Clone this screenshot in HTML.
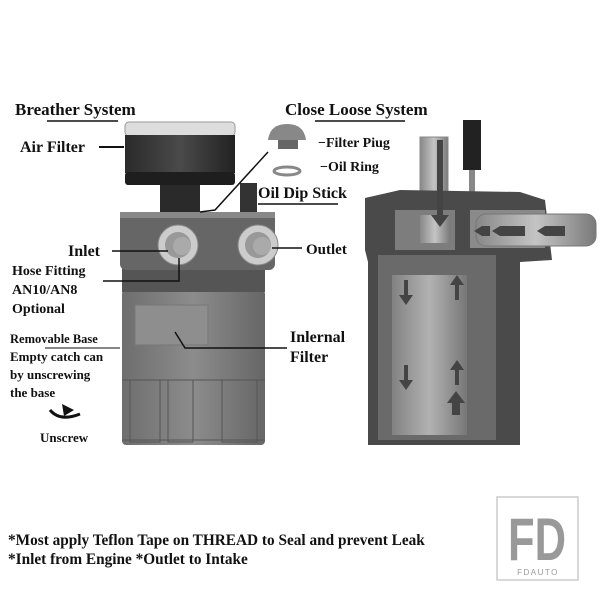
<!DOCTYPE html>
<html><head><style>
body{margin:0;background:#fff;}
svg{display:block}
text{font-family:"Liberation Serif",serif;font-weight:bold;fill:#111}
</style></head><body>
<svg width="600" height="600" viewBox="0 0 600 600" xmlns="http://www.w3.org/2000/svg">
<defs>
<linearGradient id="mesh" x1="0" x2="1"><stop offset="0" stop-color="#2a2a2a"/><stop offset=".5" stop-color="#4a4a4a"/><stop offset="1" stop-color="#222"/></linearGradient>
<linearGradient id="clear" x1="0" x2="1"><stop offset="0" stop-color="#6e6e6e"/><stop offset=".5" stop-color="#8c8c8c"/><stop offset="1" stop-color="#666"/></linearGradient>
<linearGradient id="cyl" x1="0" x2="1"><stop offset="0" stop-color="#888"/><stop offset=".5" stop-color="#c4c4c4"/><stop offset="1" stop-color="#7a7a7a"/></linearGradient>
</defs>
<!-- LEFT UNIT -->
<rect x="125" y="122" width="110" height="14" rx="4" fill="#ddd" stroke="#999"/>
<rect x="125" y="135" width="110" height="38" fill="url(#mesh)"/>
<rect x="125" y="172" width="110" height="13" rx="3" fill="#1e1e1e"/>
<rect x="160" y="185" width="40" height="28" fill="#2a2a2a"/>
<rect x="240" y="183" width="17" height="32" fill="#333"/>
<rect x="122" y="290" width="143" height="155" rx="4" fill="url(#clear)"/>
<rect x="135" y="305" width="73" height="40" fill="#8e8e8e" stroke="#777"/>
<g stroke="#555" fill="none"><rect x="130" y="380" width="30" height="62"/><rect x="168" y="380" width="25" height="62"/><rect x="222" y="380" width="35" height="62"/><line x1="122" y1="380" x2="265" y2="380"/><line x1="122" y1="440" x2="265" y2="440"/></g>
<rect x="122" y="265" width="143" height="27" fill="#555"/>
<rect x="120" y="212" width="155" height="58" rx="6" fill="#666"/>
<rect x="120" y="212" width="155" height="6" fill="#888"/>
<circle cx="178" cy="245" r="20" fill="#ccc" stroke="#888"/><circle cx="178" cy="245" r="13" fill="#999"/><circle cx="182" cy="246" r="9" fill="#aaa"/>
<circle cx="258" cy="245" r="20" fill="#ccc" stroke="#888"/><circle cx="258" cy="245" r="13" fill="#999"/><circle cx="262" cy="246" r="9" fill="#aaa"/>
<!-- parts -->
<path d="M268 140 Q270 124 287 124 Q304 124 306 140 Z" fill="#888"/><rect x="278" y="140" width="20" height="9" fill="#666"/>
<ellipse cx="287" cy="171" rx="13" ry="4" fill="none" stroke="#888" stroke-width="3"/>
<!-- RIGHT UNIT -->
<rect x="420" y="137" width="28" height="55" fill="url(#cyl)" stroke="#888"/>
<rect x="463" y="120" width="18" height="50" fill="#222"/><rect x="469" y="170" width="6" height="22" fill="#888"/>
<path d="M365 198 L400 190 L520 192 L545 200 L552 260 L520 262 L520 445 L368 445 L368 262 L365 250 Z" fill="#4a4a4a"/>
<rect x="378" y="255" width="118" height="185" fill="#6a6a6a"/>
<rect x="392" y="275" width="75" height="160" fill="url(#cyl)" opacity=".8"/>
<rect x="395" y="210" width="60" height="40" fill="#7d7d7d"/>
<rect x="420" y="215" width="30" height="28" fill="url(#cyl)"/>
<rect x="470" y="210" width="75" height="38" fill="#8a8a8a"/>
<rect x="476" y="214" width="120" height="32" rx="10" fill="url(#cyl)" stroke="#777"/>
<g fill="#444">
<path d="M437 140v75h-6l9 12 9-12h-6v-75z"/>
<path d="M565 226h-20l-8 5 8 5h20z M525 226h-25l-8 5 8 5h25z M490 226h-8l-8 5 8 5h8z"/>
<path d="M404 365v15h-5l7 10 7-10h-5v-15z M455 385v-15h-5l7-10 7 10h-5v15z M452 415v-12h-5l9-12 9 12h-5v12z"/>
<path d="M404 280v15h-5l7 10 7-10h-5v-15z M455 300v-15h-5l7-10 7 10h-5v15z"/>
</g>
<!-- LABELS -->
<text x="15" y="115" font-size="17">Breather System</text>
<line x1="47" y1="121" x2="118" y2="121" stroke="#111" stroke-width="1.5"/>
<text x="285" y="115" font-size="17">Close Loose System</text>
<line x1="315" y1="121" x2="405" y2="121" stroke="#111" stroke-width="1.5"/>
<text x="20" y="152" font-size="16">Air Filter</text>
<line x1="99" y1="147" x2="124" y2="147" stroke="#111" stroke-width="2"/>
<text x="318" y="147" font-size="14">−Filter Piug</text>
<text x="320" y="171" font-size="14">−Oil Ring</text>
<text x="258" y="198" font-size="16">Oil Dip Stick</text>
<line x1="258" y1="204" x2="338" y2="204" stroke="#111" stroke-width="1.5"/>
<polyline points="268,152 215,210 200,212" fill="none" stroke="#111" stroke-width="1.5"/>
<text x="68" y="256" font-size="16">Inlet</text>
<line x1="112" y1="251" x2="168" y2="251" stroke="#111" stroke-width="1.5"/>
<text x="12" y="275" font-size="14">Hose Fitting</text>
<text x="12" y="294" font-size="14">AN10/AN8</text>
<text x="12" y="313" font-size="14">Optional</text>
<polyline points="103,281 179,281 179,258" fill="none" stroke="#111" stroke-width="1.5"/>
<line x1="272" y1="248" x2="302" y2="248" stroke="#111" stroke-width="1.5"/>
<text x="306" y="254" font-size="15">Outlet</text>
<text x="10" y="343" font-size="12.5">Removable Base</text>
<line x1="45" y1="348" x2="120" y2="348" stroke="#111" stroke-width="1"/>
<text x="10" y="361" font-size="13">Empty catch can</text>
<text x="10" y="379" font-size="13">by unscrewing</text>
<text x="10" y="397" font-size="13">the base</text>
<path d="M50 410 q10 12 30 4" fill="none" stroke="#111" stroke-width="3"/><path d="M62 404 l12 6 -10 6z" fill="#111"/>
<text x="40" y="442" font-size="13">Unscrew</text>
<polyline points="175,332 185,348 287,348" fill="none" stroke="#111" stroke-width="1.5"/>
<text x="290" y="342" font-size="16">Inlernal</text>
<text x="290" y="362" font-size="16">Filter</text>
<text x="8" y="545" font-size="15.3">*Most apply Teflon Tape on THREAD to Seal and prevent Leak</text>
<text x="8" y="564" font-size="15.3">*Inlet from Engine  *Outlet to Intake</text>
<!-- logo -->
<rect x="497" y="497" width="81" height="83" fill="none" stroke="#ccc" stroke-width="1.5"/>
<text x="537" y="560" font-size="60" text-anchor="middle" style="font-family:'Liberation Sans',sans-serif;fill:#999" textLength="58" lengthAdjust="spacingAndGlyphs">FD</text>
<rect x="510" y="566" width="56" height="10" fill="#fff"/>
<text x="538" y="575" font-size="8" text-anchor="middle" style="font-family:'Liberation Sans',sans-serif;font-weight:normal;fill:#999;letter-spacing:1.5px">FDAUTO</text>
</svg>
</body></html>
